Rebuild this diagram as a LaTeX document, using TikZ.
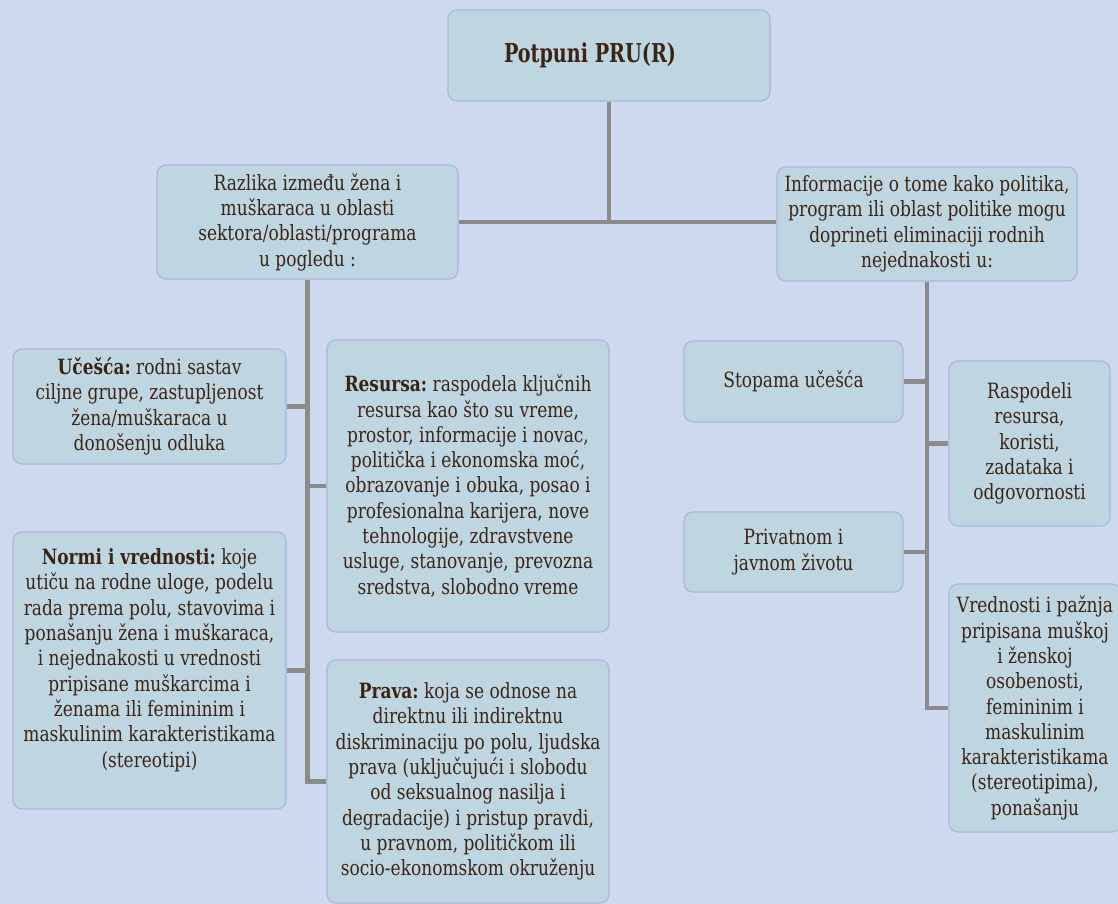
\documentclass[tikz,border=0pt]{standalone}
\usepackage{fontspec}
\setmainfont[FakeStretch=0.9]{DejaVu Serif Condensed}
\newfontfamily\titlefont[FakeStretch=0.82]{DejaVu Serif Condensed}
\definecolor{bgblue}{HTML}{CDD9EF}
\definecolor{boxfill}{HTML}{BED6E2}
\definecolor{boxline}{HTML}{A9B6E0}
\definecolor{connline}{HTML}{8A8A8A}
\definecolor{textbrown}{HTML}{3C2415}
\frenchspacing
\begin{document}
\begin{tikzpicture}[x=1pt,y=-1pt,
    box/.style={draw=boxline,fill=boxfill,rounded corners=9pt,line width=1.2pt,
        align=center,text=textbrown,inner sep=4pt,font=\fontsize{21}{25.3}\selectfont},
    conn/.style={draw=connline,line width=4.5pt}]
\fill[bgblue] (0,0) rectangle (1118,904);
\useasboundingbox (0,0) rectangle (1118,904);

\node[box,minimum width=322,minimum height=91,font=\titlefont\fontsize{26}{30}\selectfont\bfseries] (top) at (609,55.5)
    {Potpuni PRU(R)\hspace*{38pt}};
\node[box,minimum width=301,minimum height=114] (razlika) at (307.5,222)
    {Razlika između žena i\\ muškaraca u oblasti\\ sektora/oblasti/programa\\ u pogledu :};
\node[box,minimum width=300,minimum height=114] (info) at (927,224)
    {Informacije o tome kako politika,\\ program ili oblast politike mogu\\ doprineti eliminaciji rodnih\\ nejednakosti u:};

\node[box,minimum width=273,minimum height=115] (ucesca) at (149.5,406.5)
    {\textbf{Učešća:} rodni sastav\\ ciljne grupe, zastupljenost\\ žena/muškaraca u\\ donošenju odluka};
\node[box,minimum width=273,minimum height=277] (normi) at (149.5,670.5)
    {\textbf{Normi i vrednosti:} koje\\ utiču na rodne uloge, podelu\\ rada prema polu, stavovima i\\ ponašanju žena i muškaraca,\\ i nejednakosti u vrednosti\\ pripisane muškarcima i\\ ženama ili femininim i\\ maskulinim karakteristikama\\ (stereotipi)\\};
\node[box,minimum width=282,minimum height=292] (resursa) at (468,486)
    {\textbf{Resursa:} raspodela ključnih\\ resursa kao što su vreme,\\ prostor, informacije i novac,\\ politička i ekonomska moć,\\ obrazovanje i obuka, posao i\\ profesionalna karijera, nove\\ tehnologije, zdravstvene\\ usluge, stanovanje, prevozna\\ sredstva, slobodno vreme};
\node[box,minimum width=282,minimum height=243] (prava) at (468,781.5)
    {\textbf{Prava:} koja se odnose na\\ direktnu ili indirektnu\\ diskriminaciju po polu, ljudska\\ prava (uključujući i slobodu\\ od seksualnog nasilja i\\ degradacije) i pristup pravdi,\\ u pravnom, političkom ili\\ socio-ekonomskom okruženju};

\node[box,minimum width=219,minimum height=81] (stopama) at (793.5,381.5) {Stopama učešća};
\node[box,minimum width=161,minimum height=165] (raspodeli) at (1029.5,443.5)
    {Raspodeli\\ resursa,\\ koristi,\\ zadataka i\\ odgovornosti};
\node[box,minimum width=219,minimum height=80] (privatnom) at (793.5,552)
    {Privatnom i\\ javnom životu};
\node[box,minimum width=172,minimum height=248] (vrednosti) at (1035,708)
    {Vrednosti i pažnja\\ pripisana muškoj\\ i ženskoj\\ osobenosti,\\ femininim i\\ maskulinim\\ karakteristikama\\ (stereotipima),\\ ponašanju};

% stablo
\draw[conn] (top.south) -- (top.south |- razlika.east);
\draw[conn] (razlika.east) -- (razlika.east -| info.west);
\draw[conn] (razlika.south) -- (razlika.south |- prava.west) -- (prava.west);
\draw[conn] (ucesca.east) -- (ucesca.east -| razlika.south);
\draw[conn] (normi.east) -- (normi.east -| razlika.south);
\draw[conn] (resursa.west) -- (resursa.west -| razlika.south);
\draw[conn] (info.south) -- (info.south |- vrednosti.west) -- (vrednosti.west);
\draw[conn] (stopama.east) -- (stopama.east -| info.south);
\draw[conn] (raspodeli.west) -- (raspodeli.west -| info.south);
\draw[conn] (privatnom.east) -- (privatnom.east -| info.south);
\end{tikzpicture}
\end{document}
